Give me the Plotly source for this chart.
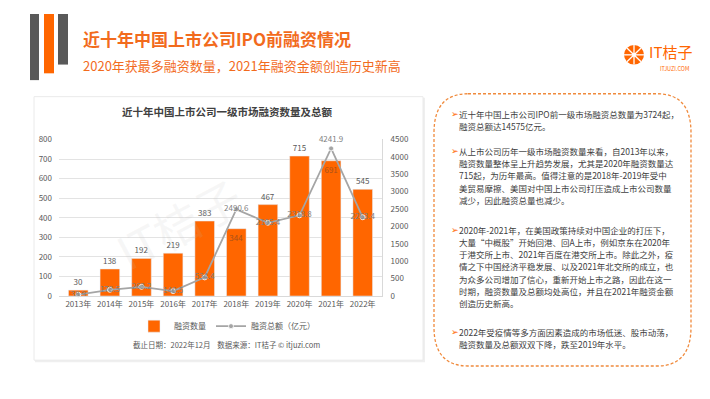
import math
import plotly.graph_objects as go

W, H = 710, 399

# ---------------- data ----------------
years = ["2013年", "2014年", "2015年", "2016年", "2017年", "2018年", "2019年", "2020年", "2021年", "2022年"]
deal_counts = [30, 138, 192, 219, 383, 344, 467, 715, 691, 545]
deal_amounts = [38.9, 178.5, 263.2, 140.5, 534.4, 2490.6, 2105.4, 2318.8, 4241.9, 2263.4]
count_ticks = list(range(0, 801, 100))
amount_ticks = list(range(0, 4501, 500))

title_text = "近十年中国上市公司IPO前融资情况"
subtitle_text = "2020年获最多融资数量，2021年融资金额创造历史新高"
chart_title = "近十年中国上市公司一级市场融资数量及总额"
footnote = "截止日期：2022年12月    数据来源：IT桔子 © itjuzi.com"
paragraphs = [
    ["近十年中国上市公司IPO前一级市场融资总数量为3724起，",
     "融资总额达14575亿元。"],
    ["从上市公司历年一级市场融资数量来看，自2013年以来，",
     "融资数量整体呈上升趋势发展，尤其是2020年融资数量达",
     "715起，为历年最高。值得注意的是2018年-2019年受中",
     "美贸易摩擦、美国对中国上市公司打压造成上市公司数量",
     "减少，因此融资总量也减少。"],
    ["2020年-2021年，在美国政策持续对中国企业的打压下，",
     "大量“中概股”开始回港、回A上市，例如京东在2020年",
     "于港交所上市、2021年百度在港交所上市。除此之外，疫",
     "情之下中国经济平稳发展、以及2021年北交所的成立，也",
     "为众多公司增加了信心，重新开始上市之路，因此在这一",
     "时期，融资数量及总额均处高位，并且在2021年融资金额",
     "创造历史新高。"],
    ["2022年受疫情等多方面因素造成的市场低迷、股市动荡，",
     "融资数量及总额双双下降，跌至2019年水平。"],
]

# ---------------- style ----------------
ORANGE = "#FF6600"
GREY_LINE = "#A5A5A5"
TXT = "#404040"
TICK = "#595959"
FONT = "Noto Sans CJK SC"


def px(x):
    return x / W


def py(y):
    return 1 - y / H


fig = go.Figure()

bar_pos = ["inside" if c in (344, 691) else "outside" for c in deal_counts]
fig.add_bar(
    x=years, y=deal_counts, name="融资数量", marker_color=ORANGE, width=0.62,
    text=[str(c) for c in deal_counts], textposition=bar_pos, insidetextanchor="end",
    textangle=0, constraintext="none",
    outsidetextfont=dict(size=8, color=TICK, family=FONT),
    insidetextfont=dict(size=8, color="#A8521A", family=FONT),
    cliponaxis=False,
)

line_pos = ["top center" if v == max(deal_amounts) else "middle center" for v in deal_amounts]
fig.add_scatter(
    x=years, y=deal_amounts, yaxis="y2", name="融资总额（亿元）",
    mode="lines+markers+text",
    line=dict(color=GREY_LINE, width=1.8),
    marker=dict(symbol="circle", size=5, color=GREY_LINE, line=dict(color="white", width=0.8)),
    text=[f"{v:.1f}" for v in deal_amounts], textposition=line_pos,
    textfont=dict(size=8, color="#7F7F7F", family=FONT),
    cliponaxis=False,
)

shapes = []
# header decoration bars
shapes.append(dict(type="rect", xref="paper", yref="paper", x0=px(22), x1=px(31), y0=py(68), y1=py(0),
                   fillcolor="#595959", line=dict(width=0), layer="above"))
shapes.append(dict(type="rect", xref="paper", yref="paper", x0=px(36), x1=px(46), y0=py(61), y1=py(0),
                   fillcolor=ORANGE, line=dict(width=0), layer="above"))
shapes.append(dict(type="rect", xref="paper", yref="paper", x0=px(50), x1=px(60), y0=py(52), y1=py(0),
                   fillcolor="#595959", line=dict(width=0), layer="above"))
# chart panel with soft shadow
shapes.append(dict(type="rect", xref="paper", yref="paper", x0=px(27), x1=px(417), y0=py(358), y1=py(86),
                   fillcolor="#EFEFEF", line=dict(width=0), layer="below"))
shapes.append(dict(type="rect", xref="paper", yref="paper", x0=px(26), x1=px(415), y0=py(356), y1=py(85),
                   fillcolor="white", line=dict(color="#EAEAEA", width=1), layer="below"))
# dashed rounded text box
bx0, bx1, by0, by1 = px(426), px(683), py(362), py(82)
rx, ry = 34 / W, 40 / H
path = (f"M {bx0+rx},{by1} L {bx1-rx},{by1} Q {bx1},{by1} {bx1},{by1-ry} "
        f"L {bx1},{by0+ry} Q {bx1},{by0} {bx1-rx},{by0} "
        f"L {bx0+rx},{by0} Q {bx0},{by0} {bx0},{by0+ry} "
        f"L {bx0},{by1-ry} Q {bx0},{by1} {bx0+rx},{by1} Z")
shapes.append(dict(type="path", xref="paper", yref="paper", path=path,
                   line=dict(color="#F08A3C", width=1.3, dash="3px,2px"), layer="above"))
# logo
cx, cy, r = 626, 42, 10
shapes.append(dict(type="circle", xref="paper", yref="paper", x0=px(cx - r), x1=px(cx + r),
                   y0=py(cy + r), y1=py(cy - r), fillcolor=ORANGE, line=dict(width=0), layer="above"))
for k in range(4):
    a = math.pi * k / 4
    dx, dy = r * math.cos(a), r * math.sin(a)
    shapes.append(dict(type="line", xref="paper", yref="paper", x0=px(cx - dx), x1=px(cx + dx),
                       y0=py(cy - dy), y1=py(cy + dy), line=dict(color="white", width=1.3), layer="above"))
shapes.append(dict(type="circle", xref="paper", yref="paper", x0=px(cx - 2), x1=px(cx + 2),
                   y0=py(cy + 2), y1=py(cy - 2), fillcolor="white", line=dict(width=0), layer="above"))

ann = []
ann.append(dict(text=f"<b>{title_text}</b>", x=px(73), y=py(25), xanchor="left", yanchor="middle",
                font=dict(size=17, color="#F26B1D", family=FONT)))
ann.append(dict(text=subtitle_text, x=px(73), y=py(53), xanchor="left", yanchor="middle",
                font=dict(size=13, color="#F26B1D", family=FONT)))
ann.append(dict(text="IT桔子", x=px(639), y=py(39), xanchor="left", yanchor="middle",
                font=dict(size=15, color=ORANGE, family=FONT)))
ann.append(dict(text="ITJUZI.COM", x=px(650), y=py(57), xanchor="left", yanchor="middle",
                font=dict(size=5.5, color=ORANGE, family=FONT)))
ann.append(dict(text=f"<b>{chart_title}</b>", x=px(219), y=py(100), xanchor="center", yanchor="middle",
                font=dict(size=10.5, color=TXT, family=FONT)))
ann.append(dict(text=footnote, x=px(219), y=py(340), xanchor="center", yanchor="middle",
                font=dict(size=7.5, color=TICK, family=FONT)))
ann.append(dict(text="IT桔子", x=px(170), y=py(215), xanchor="center", yanchor="middle", textangle=-28,
                font=dict(size=46, color="rgba(190,190,190,0.12)", family=FONT)))

para_starts = [103, 141, 222, 327]
for start, lines in zip(para_starts, paragraphs):
    ann.append(dict(text="➢", x=px(441), y=py(start), xanchor="left", yanchor="middle",
                    font=dict(size=9, color=ORANGE, family="DejaVu Sans")))
    for i, line in enumerate(lines):
        ann.append(dict(text=line, x=px(449), y=py(start + i * 12.5), xanchor="left", yanchor="middle",
                        font=dict(size=8.5, color=TXT, family=FONT)))

for a in ann:
    a.update(xref="paper", yref="paper", showarrow=False)

fig.update_layout(
    width=W, height=H, margin=dict(l=0, r=0, t=0, b=0),
    paper_bgcolor="white", plot_bgcolor="rgba(0,0,0,0)",
    font=dict(family=FONT, color=TICK),
    xaxis=dict(domain=[px(51), px(374)], type="category", showline=True, linecolor="#D9D9D9",
               linewidth=1, ticks="", tickfont=dict(size=8, color=TICK), showgrid=False),
    yaxis=dict(domain=[py(290), py(129)], range=[0, 800], tickvals=count_ticks, showgrid=True,
               gridcolor="#E3E3E3", gridwidth=1, zeroline=False, showline=False, ticks="",
               tickfont=dict(size=8, color=TICK), ticklabelstandoff=6),
    yaxis2=dict(overlaying="y", side="right", range=[0, 4500], tickvals=amount_ticks, showgrid=False,
                zeroline=False, showline=True, linecolor="#D9D9D9", ticks="",
                tickfont=dict(size=8, color=TICK), ticklabelstandoff=6),
    legend=dict(orientation="h", x=px(219), xanchor="center", y=py(321), yanchor="middle",
                font=dict(size=8, color=TICK, family=FONT), bgcolor="rgba(0,0,0,0)",
                itemwidth=30, tracegroupgap=0),
    shapes=shapes, annotations=ann, showlegend=True,
)

fig.write_html("out.html")
